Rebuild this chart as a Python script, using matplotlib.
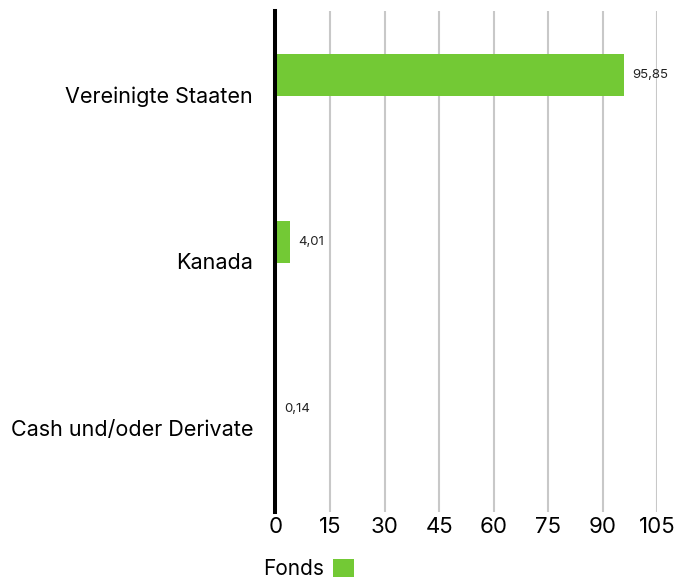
import matplotlib
matplotlib.use('Agg')
import matplotlib.pyplot as plt
import numpy as np

# ------------------------------- Data ------------------------------- #
categories = ['Vereinigte Staaten', 'Kanada', 'Cash und/oder Derivate']
fonds = [95.85, 4.01, 0.14]
xticks = [0, 15, 30, 45, 60, 75, 90, 105]
series_name = 'Fonds'

green = '#73c935'
plt.rcParams['font.family'] = ['Inter', 'DejaVu Sans']

fig = plt.figure(figsize=(6.78, 5.80), dpi=100)
ax = fig.add_axes([0.4063, 0.1181, 0.5632, 0.8629])

ypos = np.arange(len(categories))
bars = ax.barh(ypos - 0.116, fonds, height=0.25, color=green, label=series_name, zorder=3)

# value labels with German decimal comma
for rect, val in zip(bars, fonds):
    ax.annotate(f'{val:.2f}'.replace('.', ','),
                (rect.get_width(), rect.get_y() + rect.get_height() / 2),
                xytext=(6, 0), textcoords='offset points',
                ha='left', va='center', fontsize=9.5, color='#222222')

ax.set_xlim(0, 105)
ax.set_ylim(len(categories) - 0.5, -0.5)
ax.set_xticks(xticks)
ax.set_xticklabels([str(t) for t in xticks], fontsize=16)
ax.set_yticks(ypos)
ax.set_yticklabels(categories, fontsize=15.5)
ax.tick_params(axis='x', length=0, pad=4)
ax.tick_params(axis='y', length=0, pad=16)

ax.xaxis.grid(True, color='#c8c8c8', lw=1.5, zorder=0)
ax.set_axisbelow(True)
for s in ['top', 'right', 'bottom']:
    ax.spines[s].set_visible(False)
ax.spines['left'].set_linewidth(2.9)
ax.spines['left'].set_color('black')
ax.spines['left'].set_zorder(4)

fig.legend(loc='lower left', bbox_to_anchor=(0.36, -0.031), frameon=False,
           markerfirst=False, handlelength=1.0, handleheight=1.0,
           handletextpad=0.45, fontsize=15)

fig.savefig('out.png', dpi=100)
